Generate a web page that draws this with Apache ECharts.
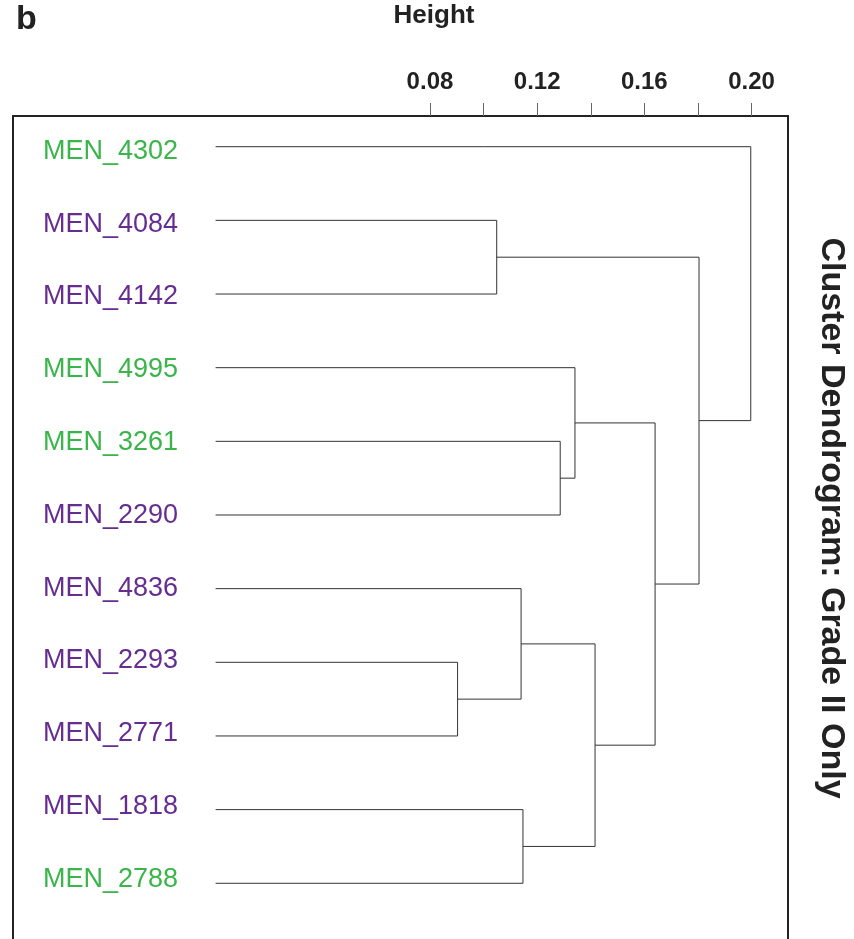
<!DOCTYPE html>
<html>
<head>
<meta charset="utf-8">
<script src="https://cdn.jsdelivr.net/npm/echarts@6/dist/echarts.min.js"></script>
<style>
html, body { margin: 0; padding: 0; background: #fff; }
#main { width: 854px; height: 939px; }
</style>
</head>
<body>
<div id="main"></div>
<script>
// 叶子（从上到下的顺序）
var leafNames = ['MEN_4302', 'MEN_4084', 'MEN_4142', 'MEN_4995', 'MEN_3261', 'MEN_2290',
	'MEN_4836', 'MEN_2293', 'MEN_2771', 'MEN_1818', 'MEN_2788'];
var leafGroups = ['g', 'p', 'p', 'g', 'g', 'p', 'p', 'p', 'p', 'p', 'g'];
// 合并步骤，R hclust 的写法：负数 = 叶子编号(从1开始)，正数 = 前面的合并编号
var mergeA = [-2, -5, -4, -8, -7, -10, 5, 3, 1, -1];
var mergeB = [-3, -6, 2, -9, 4, -11, 6, 7, 8, 9];
var mergeHeights = [0.1049, 0.1286, 0.1341, 0.0903, 0.1140, 0.1147, 0.1416, 0.1640, 0.1804, 0.1997];
// 刻度
var tickValues = [0.08, 0.10, 0.12, 0.14, 0.16, 0.18, 0.20];
var tickLabelValues = [0.08, 0.12, 0.16, 0.20];

var FONT = "'Liberation Sans', Arial, Helvetica, sans-serif";
var GREEN = '#39B54A', PURPLE = '#662D91';

// 算每个节点的位置 [高度, 纵向序号]
var nodePos = [];
function childPos(id) {
	if (id < 0) {
		return [0, -id - 1];
	}
	return nodePos[id - 1];
}
var segs = [];
for (var i = 0; i < mergeHeights.length; i++) {
	var a = childPos(mergeA[i]);
	var b = childPos(mergeB[i]);
	var h = mergeHeights[i];
	segs.push({
		coords: [[a[0], a[1]], [h, a[1]], [h, b[1]], [b[0], b[1]]]
	});
	nodePos.push([h, (a[1] + b[1]) / 2]);
}

var leafIdx = [];
for (var j = 0; j < leafNames.length; j++) {
	leafIdx.push(j);
}

var chart = echarts.init(document.getElementById('main'), null, {renderer: 'canvas'});
var option = {
	animation: false,
	backgroundColor: '#fff',
	grid: {
		left: 13,
		top: 116,
		width: 775,
		height: 850,
		outerBoundsMode: 'none',
		containLabel: false,
		show: true,
		borderColor: '#222',
		borderWidth: 2,
		backgroundColor: 'transparent'
	},
	xAxis: {
		type: 'value',
		position: 'top',
		min: -0.0756,
		max: 0.2136,
		splitLine: {show: false},
		axisLine: {show: false, onZero: false},
		axisTick: {
			show: true,
			inside: false,
			customValues: tickValues,
			length: 13,
			lineStyle: {color: '#666', width: 1}
		},
		axisLabel: {
			customValues: tickLabelValues,
			formatter: function (v) { return v.toFixed(2); },
			margin: 22,
			fontFamily: FONT,
			fontSize: 24,
			fontWeight: 'bold',
			color: '#222'
		}
	},
	yAxis: [{
		// 树形线用
		type: 'value',
		inverse: true,
		min: -0.4168,
		max: 11.123,
		show: false
	}, {
		// 叶子名字用
		type: 'value',
		inverse: true,
		position: 'left',
		min: -0.4849,
		max: 11.191,
		splitLine: {show: false},
		axisLine: {show: false, onZero: false},
		axisTick: {show: false},
		axisLabel: {
			inside: true,
			margin: 30,
			customValues: leafIdx,
			formatter: function (v) {
				var k = Math.round(v);
				return '{' + leafGroups[k] + '|' + leafNames[k] + '}';
			},
			rich: {
				g: {color: GREEN, fontSize: 27, fontFamily: FONT},
				p: {color: PURPLE, fontSize: 27, fontFamily: FONT}
			}
		}
	}],
	graphic: [{
		type: 'text',
		left: 16,
		top: 3,
		style: {text: 'b', font: 'bold 34px ' + FONT, fill: '#222'}
	}, {
		type: 'text',
		x: 434,
		y: 16,
		style: {text: 'Height', font: 'bold 26px ' + FONT, fill: '#222', align: 'center', verticalAlign: 'middle'}
	}, {
		type: 'text',
		x: 831,
		y: 518,
		rotation: -Math.PI / 2,
		style: {text: 'Cluster Dendrogram: Grade II Only', font: 'bold 34px ' + FONT, fill: '#222', align: 'center', verticalAlign: 'middle'}
	}],
	series: [{
		type: 'lines',
		coordinateSystem: 'cartesian2d',
		xAxisIndex: 0,
		yAxisIndex: 0,
		polyline: true,
		silent: true,
		lineStyle: {color: '#333', width: 1, opacity: 1},
		data: segs
	}]
};
chart.setOption(option);
</script>
</body>
</html>
